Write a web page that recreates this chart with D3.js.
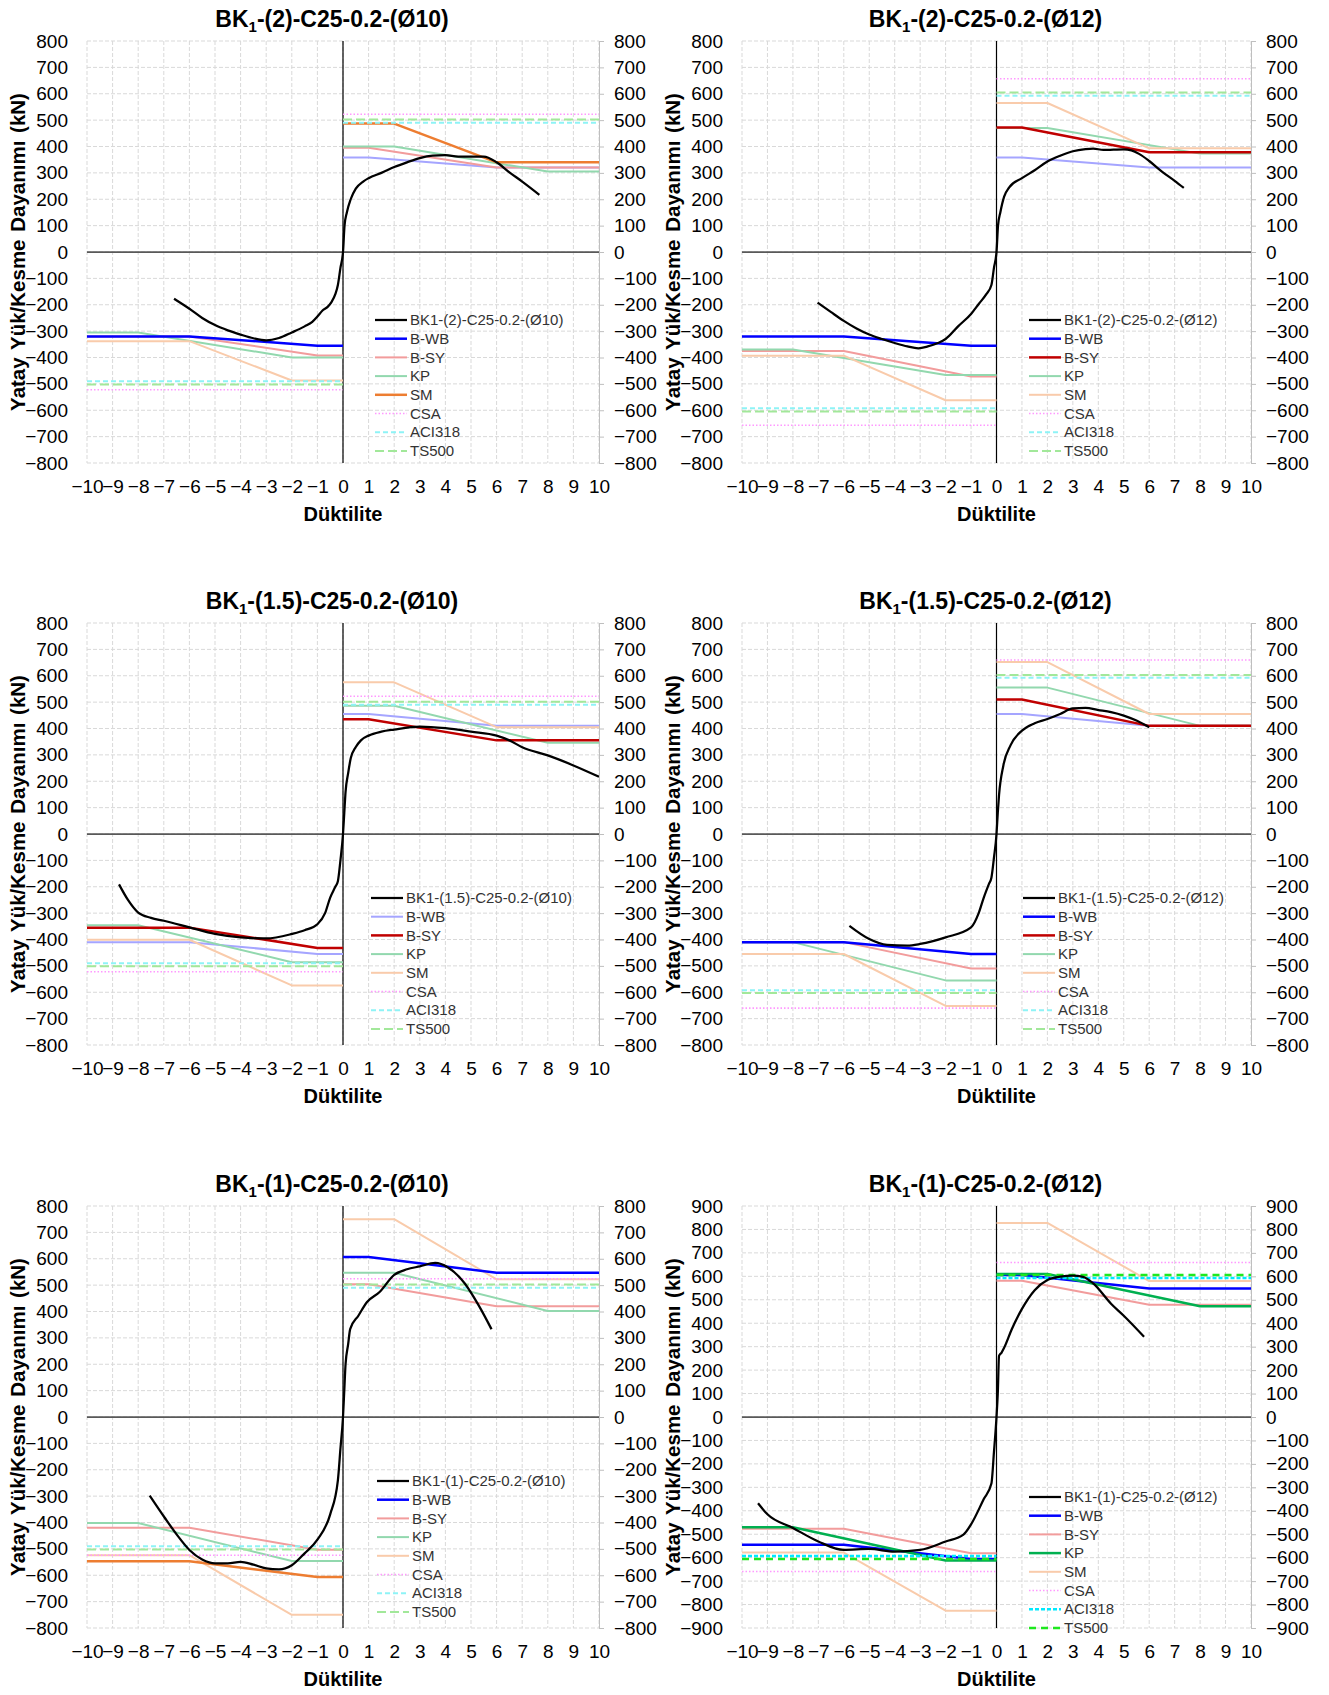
<!DOCTYPE html>
<html>
<head>
<meta charset="utf-8">
<script src="https://cdn.jsdelivr.net/npm/d3@7"></script>
<style>
  body { margin: 0; background: #fff; }
  svg { display: block; font-family: "Liberation Sans", Arial, sans-serif; }
</style>
</head>
<body>
<svg id="chart" width="1329" height="1695"></svg>
<script>
// ============== Data ==============
var titleRest = ['-(2)-C25-0.2-(Ø10)', '-(2)-C25-0.2-(Ø12)', '-(1.5)-C25-0.2-(Ø10)',
                 '-(1.5)-C25-0.2-(Ø12)', '-(1)-C25-0.2-(Ø10)', '-(1)-C25-0.2-(Ø12)'];
var testNames = ['BK1-(2)-C25-0.2-(Ø10)', 'BK1-(2)-C25-0.2-(Ø12)', 'BK1-(1.5)-C25-0.2-(Ø10)',
                 'BK1-(1.5)-C25-0.2-(Ø12)', 'BK1-(1)-C25-0.2-(Ø10)', 'BK1-(1)-C25-0.2-(Ø12)'];
var seriesNames = ['B-WB', 'B-SY', 'KP', 'SM', 'CSA', 'ACI318', 'TS500'];
var yLimit = [800, 800, 800, 800, 800, 900];
var xTicks = d3.range(-10, 11, 1);

// experimental envelope curves (ductility, kN)
var testCurves = [
  [[-6.6,-177],[-6,-215],[-5.5,-250],[-5,-277],[-4.5,-297],[-4,-313],[-3.5,-327],[-3,-335],[-2.5,-326],[-2,-305],[-1.5,-282],[-1.2,-265],[-1,-245],[-0.8,-222],[-0.6,-208],[-0.45,-190],[-0.3,-160],[-0.2,-125],[-0.1,-60],[0,0],[0.06,100],[0.15,150],[0.3,200],[0.5,240],[0.8,268],[1,280],[1.5,300],[2,322],[2.5,340],[3,356],[3.5,365],[4,367],[4.5,362],[5,362],[5.5,362],[6,340],[6.5,302],[7,267],[7.67,217]],
  [[-7.03,-192],[-6.5,-228],[-6,-261],[-5.5,-290],[-5,-313],[-4.5,-330],[-4,-345],[-3.5,-358],[-3.07,-365],[-2.7,-358],[-2.3,-345],[-2,-330],[-1.5,-281],[-1,-235],[-0.69,-196],[-0.4,-160],[-0.2,-125],[-0.1,-60],[0,0],[0.06,100],[0.15,150],[0.3,210],[0.5,245],[1,280],[1.5,310],[2,343],[2.5,365],[3,382],[3.5,390],[3.8,392],[4.2,387],[4.6,388],[5,389],[5.3,385],[5.6,372],[6,345],[6.5,305],[7,270],[7.36,243]],
  [[-8.75,-191],[-8.4,-250],[-8,-298],[-7.5,-318],[-7,-329],[-6,-354],[-5,-379],[-4,-392],[-3,-396],[-2,-379],[-1.5,-365],[-1,-342],[-0.7,-300],[-0.5,-241],[-0.3,-200],[-0.2,-179],[-0.1,-100],[0,0],[0.05,80],[0.1,160],[0.2,230],[0.3,286],[0.5,330],[0.7,355],[1,373],[1.5,388],[2,396],[3,407],[4,401],[5,388],[6,373],[6.5,355],[7,329],[8,298],[9,260],[10,217]],
  [[-5.78,-348],[-5,-398],[-4.3,-420],[-3.5,-423],[-3,-417],[-2,-392],[-1,-354],[-0.7,-300],[-0.5,-241],[-0.3,-190],[-0.2,-166],[-0.1,-90],[0,0],[0.05,80],[0.1,148],[0.27,260],[0.55,336],[1,392],[1.5,420],[2,436],[2.5,455],[3,476],[3.5,478],[4,470],[4.5,462],[5,449],[5.5,430],[6,405]],
  [[-7.55,-298],[-6.97,-381],[-6.5,-445],[-6,-504],[-5.5,-540],[-5,-555],[-4.5,-555],[-4,-549],[-3.5,-560],[-3,-574],[-2.5,-578],[-2,-562],[-1.5,-517],[-1,-465],[-0.5,-369],[-0.2,-240],[-0.1,-120],[0,0],[0.05,100],[0.1,200],[0.2,275],[0.28,333],[0.6,384],[0.94,436],[1.43,474],[2,539],[2.5,560],[3,571],[3.6,584],[4.1,567],[4.75,507],[5.3,423],[5.8,333]],
  [[-9.37,-368],[-9,-415],[-8,-473],[-7,-531],[-6,-567],[-5,-563],[-4,-574],[-3,-567],[-2,-531],[-1.3,-502],[-1,-458],[-0.5,-350],[-0.2,-284],[-0.1,-150],[0,0],[0.05,100],[0.1,261],[0.2,275],[0.3,295],[0.6,374],[1,461],[1.5,541],[2,584],[2.5,599],[3,603],[3.4,598],[3.8,570],[4.5,483],[5,432],[5.8,342]]
];

// model predictions, positive and negative branches, one entry per panel
var bwbPos = [
  [[0,358],[1,358],[6,320],[10,320]], [[0,358],[1,358],[6,320],[10,320]],
  [[0,455],[1,455],[6,410],[10,410]], [[0,455],[1,455],[6,410],[10,410]],
  [[0,607],[1,607],[6,547],[10,547]], [[0,606],[1,606],[6,548],[10,548]]
];
var bwbNeg = [
  [[-10,-320],[-6,-320],[-1,-355],[0,-355]], [[-10,-320],[-6,-320],[-1,-355],[0,-355]],
  [[-10,-410],[-6,-410],[-1,-455],[0,-455]], [[-10,-410],[-6,-410],[-1,-455],[0,-455]],
  [[-10,-547],[-6,-547],[-1,-607],[0,-607]], [[-10,-545],[-6,-545],[-1,-606],[0,-606]]
];
var bsyPos = [
  [[0,395],[1,395],[6,320],[10,320]], [[0,472],[1,472],[6,378],[10,378]],
  [[0,435],[1,435],[6,355],[10,355]], [[0,510],[1,510],[6,410],[10,410]],
  [[0,503],[1,503],[6,420],[10,420]], [[0,581],[1,581],[6,479],[10,479]]
];
var bsyNeg = [
  [[-10,-320],[-6,-320],[-1,-392],[0,-392]], [[-10,-375],[-6,-375],[-1,-472],[0,-472]],
  [[-10,-355],[-6,-355],[-1,-432],[0,-432]], [[-10,-410],[-6,-410],[-1,-510],[0,-510]],
  [[-10,-420],[-6,-420],[-1,-503],[0,-503]], [[-10,-477],[-6,-477],[-1,-581],[0,-581]]
];
var kpPos = [
  [[0,400],[2,400],[8,305],[10,305]], [[0,470],[2,470],[8,373],[10,373]],
  [[0,486],[2,486],[8,346],[10,346]], [[0,555],[2,555],[8,410],[10,410]],
  [[0,547],[2,547],[8,402],[10,402]], [[0,610],[2,610],[8,472],[10,472]]
];
var kpNeg = [
  [[-10,-305],[-8,-305],[-2,-400],[0,-400]], [[-10,-370],[-8,-370],[-2,-466],[0,-466]],
  [[-10,-346],[-8,-346],[-2,-486],[0,-486]], [[-10,-410],[-8,-410],[-2,-555],[0,-555]],
  [[-10,-402],[-8,-402],[-2,-546],[0,-546]], [[-10,-470],[-8,-470],[-2,-612],[0,-612]]
];
var smPos = [
  [[0,487],[2,487],[6,340],[10,340]], [[0,565],[2,565],[6,393],[10,393]],
  [[0,575],[2,575],[6,405],[10,405]], [[0,652],[2,652],[6,455],[10,455]],
  [[0,750],[2,750],[6,522],[10,522]], [[0,828],[2,828],[6,580],[10,580]]
];
var smNeg = [
  [[-10,-338],[-6,-338],[-2,-487],[0,-487]], [[-10,-393],[-6,-393],[-2,-562],[0,-562]],
  [[-10,-401],[-6,-401],[-2,-574],[0,-574]], [[-10,-455],[-6,-455],[-2,-652],[0,-652]],
  [[-10,-524],[-6,-524],[-2,-750],[0,-750]], [[-10,-578],[-6,-578],[-2,-826],[0,-826]]
];

// code shear capacities (kN)
var csaLevel = [522, 657, 522, 660, 524, 659];
var aciLevel = [490, 592, 490, 592, 490, 593];
var ts500Level = [502, 605, 501, 603, 502, 606];

// ============== Styles ==============
var strongColor = { bwb: '#0000ff', bsy: '#c00000', kp: '#00b050', sm: '#ed7d31' };
var lightColor = { bwb: '#a5a5ff', bsy: '#f29c9c', kp: '#92d8ae', sm: '#f9cbab' };
var highlight = [
  { pos: ['sm'], neg: ['bwb'], legend: ['bwb', 'sm'] },
  { pos: ['bsy'], neg: ['bwb'], legend: ['bwb', 'bsy'] },
  { pos: ['bsy'], neg: ['bsy'], legend: ['bsy'] },
  { pos: ['bsy'], neg: ['bwb'], legend: ['bwb', 'bsy'] },
  { pos: ['bwb'], neg: ['bwb'], legend: ['bwb'], negColor: { bwb: '#ed7d31' } },
  { pos: ['bwb', 'kp'], neg: ['bwb', 'kp'], legend: ['bwb', 'kp'], codesStrong: true }
];
var codeStyle = {
  light: {
    csa: { color: '#ff99ff', width: 1.6, dash: '1.5,2' },
    aci: { color: '#8ef3f6', width: 2, dash: '5,3' },
    ts: { color: '#a2e89a', width: 2, dash: '9,4' }
  },
  strong: {
    csa: { color: '#ff99ff', width: 1.6, dash: '1.5,2' },
    aci: { color: '#00eaff', width: 2.5, dash: '4,2' },
    ts: { color: '#1ee81e', width: 2.5, dash: '7,5' }
  }
};

var colX0 = [87, 742], colX1 = [599, 1251];
var rowY0 = [41, 623, 1206], plotH = 422;
var legendPos = [[375, 320], [1029, 320], [371, 898], [1023, 898], [377, 1481], [1029, 1497]];

var svg = d3.select('#chart');

function refStyle(i, key, side) {
  var h = highlight[i];
  var isStrong = h[side].indexOf(key) >= 0;
  var color = isStrong ? strongColor[key] : lightColor[key];
  if (side === 'neg' && h.negColor && h.negColor[key]) color = h.negColor[key];
  return { color: color, width: isStrong ? 2.5 : 2, dash: null };
}

// ============== Panels ==============
testNames.forEach(function (name, i) {
  var col = i % 2, row = Math.floor(i / 2);
  var x0 = colX0[col], x1 = colX1[col], y0 = rowY0[row], y1 = y0 + plotH;
  var yMax = yLimit[i];
  var yTicks = d3.range(-yMax, yMax + 1, 100);

  var x = d3.scaleLinear().domain([-10, 10]).range([x0, x1]);
  var y = d3.scaleLinear().domain([-yMax, yMax]).range([y1, y0]);

  var g = svg.append('g').attr('class', 'panel');

  g.append('clipPath').attr('id', 'clip' + i)
    .append('rect').attr('x', x0).attr('y', y0 - 2).attr('width', x1 - x0).attr('height', plotH + 4);

  // grid
  g.append('g').selectAll('line').data(yTicks).enter().append('line')
    .attr('x1', x0).attr('x2', x1)
    .attr('y1', function (d) { return y(d); }).attr('y2', function (d) { return y(d); })
    .attr('stroke', '#d9d9d9').attr('stroke-width', 1).attr('stroke-dasharray', '4,2');
  g.append('g').selectAll('line').data(xTicks).enter().append('line')
    .attr('y1', y0).attr('y2', y1)
    .attr('x1', function (d) { return x(d); }).attr('x2', function (d) { return x(d); })
    .attr('stroke', '#d9d9d9').attr('stroke-width', 1).attr('stroke-dasharray', '4,2');

  // axes
  var leftAxis = g.append('g').attr('transform', 'translate(' + x0 + ',0)')
    .call(d3.axisLeft(y).tickValues(yTicks).tickSize(0).tickPadding(19).tickFormat(d3.format('d')));
  var rightAxis = g.append('g').attr('transform', 'translate(' + x1 + ',0)')
    .call(d3.axisRight(y).tickValues(yTicks).tickSize(5).tickPadding(10).tickFormat(d3.format('d')));
  var bottomAxis = g.append('g').attr('transform', 'translate(0,' + y1 + ')')
    .call(d3.axisBottom(x).tickValues(xTicks).tickSize(0).tickPadding(17).tickFormat(d3.format('d')));
  leftAxis.select('.domain').remove();
  bottomAxis.select('.domain').remove();
  rightAxis.select('.domain').attr('stroke', '#bfbfbf');
  rightAxis.selectAll('.tick line').attr('stroke', '#bfbfbf');
  [leftAxis, rightAxis, bottomAxis].forEach(function (a) {
    a.selectAll('text').attr('font-size', 19).attr('fill', '#000')
      .attr('font-family', '"Liberation Sans", Arial, sans-serif');
  });

  // zero lines
  g.append('line').attr('x1', x0).attr('x2', x1).attr('y1', y(0)).attr('y2', y(0))
    .attr('stroke', '#595959').attr('stroke-width', 1.75);
  g.append('line').attr('x1', x(0)).attr('x2', x(0)).attr('y1', y0).attr('y2', y1)
    .attr('stroke', '#000').attr('stroke-width', 1.2);

  var line = d3.line().x(function (d) { return x(d[0]); }).y(function (d) { return y(d[1]); });
  var plot = g.append('g').attr('clip-path', 'url(#clip' + i + ')').attr('fill', 'none');

  // model branches
  var refs = [
    { key: 'bwb', pos: bwbPos[i], neg: bwbNeg[i] },
    { key: 'bsy', pos: bsyPos[i], neg: bsyNeg[i] },
    { key: 'kp', pos: kpPos[i], neg: kpNeg[i] },
    { key: 'sm', pos: smPos[i], neg: smNeg[i] }
  ];
  // light ones first so highlighted lines sit on top
  var segs = [];
  refs.forEach(function (r) {
    ['pos', 'neg'].forEach(function (side) {
      var st = refStyle(i, r.key, side);
      segs.push({ data: r[side], st: st, strong: st.width > 2 });
    });
  });
  segs.sort(function (a, b) { return a.strong - b.strong; });
  segs.forEach(function (s) {
    plot.append('path').attr('d', line(s.data))
      .attr('stroke', s.st.color).attr('stroke-width', s.st.width)
      .attr('stroke-linejoin', 'round');
  });

  // code levels
  var cs = highlight[i].codesStrong ? codeStyle.strong : codeStyle.light;
  var codes = [
    { level: csaLevel[i], st: cs.csa },
    { level: aciLevel[i], st: cs.aci },
    { level: ts500Level[i], st: cs.ts }
  ];
  codes.forEach(function (c) {
    [[[0, c.level], [10, c.level]], [[-10, -c.level], [0, -c.level]]].forEach(function (seg) {
      plot.append('path').attr('d', line(seg))
        .attr('stroke', c.st.color).attr('stroke-width', c.st.width)
        .attr('stroke-dasharray', c.st.dash);
    });
  });

  // experiment
  plot.append('path')
    .attr('d', line.curve(d3.curveMonotoneX)(testCurves[i]))
    .attr('stroke', '#000').attr('stroke-width', 2.25).attr('stroke-linejoin', 'round');
  line.curve(d3.curveLinear);

  // title
  var title = g.append('text')
    .attr('x', (x0 + x1) / 2 - 11).attr('y', y0 - 14)
    .attr('text-anchor', 'middle').attr('font-size', 23).attr('font-weight', 'bold');
  title.append('tspan').text('BK');
  title.append('tspan').attr('font-size', 15).attr('dy', 5).text('1');
  title.append('tspan').attr('dy', -5).text(titleRest[i]);

  // axis titles
  g.append('text')
    .attr('transform', 'translate(' + (x0 - 70) + ',' + ((y0 + y1) / 2) + ') rotate(-90)')
    .attr('text-anchor', 'middle').attr('dominant-baseline', 'central')
    .attr('font-size', 20.5).attr('font-weight', 'bold').attr('word-spacing', 2)
    .text('Yatay Yük/Kesme Dayanımı (kN)');
  g.append('text')
    .attr('x', (x0 + x1) / 2).attr('y', y1 + 58)
    .attr('text-anchor', 'middle').attr('font-size', 20).attr('font-weight', 'bold')
    .text('Düktilite');

  // legend
  var lp = legendPos[i];
  var legendRows = [{ name: name, color: '#000', width: 2.25, dash: null }];
  ['bwb', 'bsy', 'kp', 'sm'].forEach(function (k, j) {
    var strong = highlight[i].legend.indexOf(k) >= 0;
    legendRows.push({ name: seriesNames[j], color: strong ? strongColor[k] : lightColor[k], width: strong ? 2.5 : 2, dash: null });
  });
  legendRows.push({ name: seriesNames[4], color: cs.csa.color, width: cs.csa.width, dash: cs.csa.dash });
  legendRows.push({ name: seriesNames[5], color: cs.aci.color, width: cs.aci.width, dash: cs.aci.dash });
  legendRows.push({ name: seriesNames[6], color: cs.ts.color, width: cs.ts.width, dash: cs.ts.dash });

  var leg = g.append('g').attr('transform', 'translate(' + lp[0] + ',' + lp[1] + ')');
  var items = leg.selectAll('g').data(legendRows).enter().append('g')
    .attr('transform', function (d, k) { return 'translate(0,' + (k * 18.7) + ')'; });
  items.append('line').attr('x1', 0).attr('x2', 32).attr('y1', 0).attr('y2', 0)
    .attr('stroke', function (d) { return d.color; })
    .attr('stroke-width', function (d) { return d.width; })
    .attr('stroke-dasharray', function (d) { return d.dash; });
  items.append('text').attr('x', 35).attr('y', 0).attr('dy', '0.35em')
    .attr('font-size', 15).attr('fill', '#333')
    .text(function (d) { return d.name; });
});
</script>
</body>
</html>
